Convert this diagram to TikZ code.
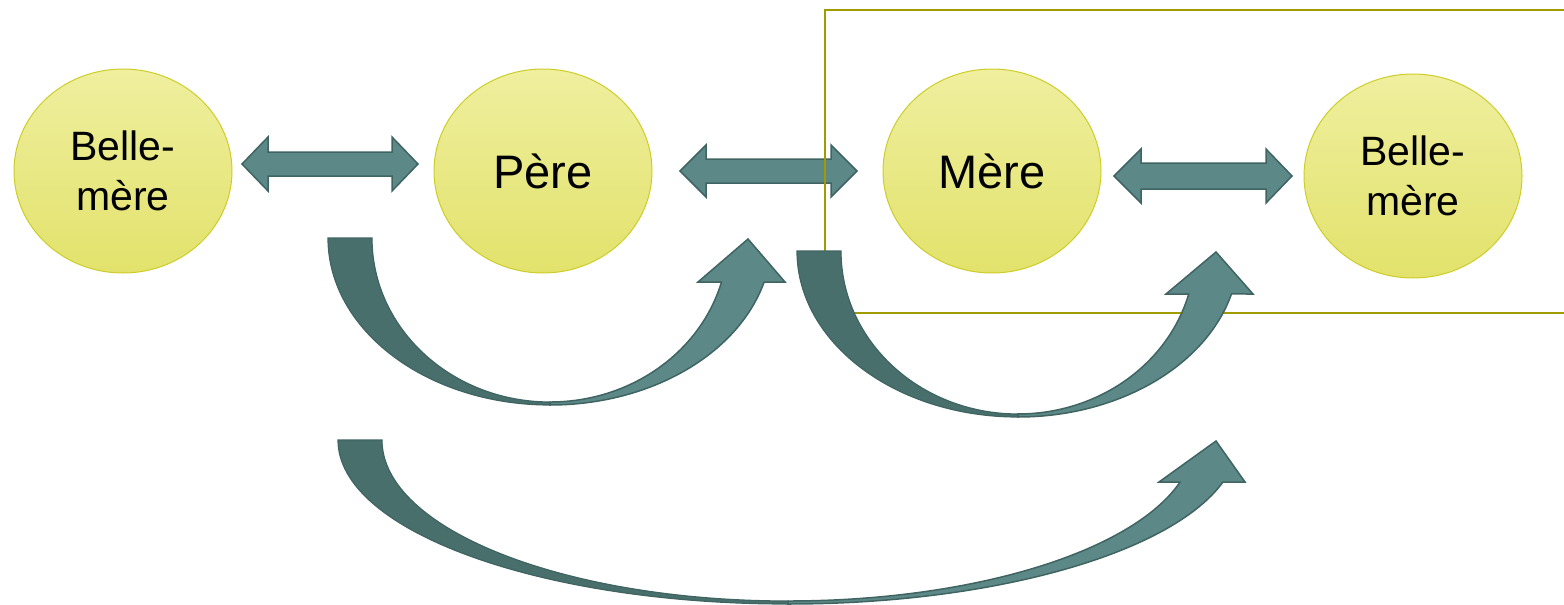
\documentclass[tikz,border=0pt]{standalone}
\usepackage{fontspec}
\setmainfont{Liberation Sans}
\usetikzlibrary{shapes.geometric}
\definecolor{ellTop}{HTML}{EFEF9F}
\definecolor{ellBot}{HTML}{E2E26C}
\definecolor{ellLine}{HTML}{CDCD2A}
\definecolor{arrFill}{HTML}{5C8987}
\definecolor{arrDark}{HTML}{486F6C}
\definecolor{arrLine}{HTML}{3F6462}
\definecolor{rectLine}{HTML}{A09C00}
\begin{document}
\begin{tikzpicture}[x=1pt,y=-1pt,
  person/.style={ellipse, draw=ellLine, line width=1pt, top color=ellTop, bottom color=ellBot,
    minimum width=218pt, minimum height=204pt, inner sep=0pt, align=center, text=black},
  twolines/.style={font=\fontsize{41}{50}\selectfont},
  oneline/.style={font=\fontsize{47}{56}\selectfont},
  blockarrow/.style={fill=arrFill, draw=arrLine, line width=1.5pt, line join=miter},
  darkband/.style={fill=arrDark, draw=arrLine, line width=1.2pt},
  lightband/.style={fill=arrFill, draw=arrLine, line width=1.5pt, line join=miter},
  frameline/.style={draw=rectLine, line width=2.5pt}]
\useasboundingbox (0,0) rectangle (1564,605);

% persons
\node[person, twolines] (bm1) at (123,171) {Belle-\\mère};
\node[person, oneline] (pere) at (543,171) {Père};
\node[person, oneline] (mere) at (992,171) {Mère};
\node[person, twolines] (bm2) at (1413,176) {Belle-\\mère};

% double arrows
\draw[blockarrow] (242,164) -- (268,137) -- (268,152) -- (392,152) -- (392,137) -- (418,164)
  -- (392,191) -- (392,176) -- (268,176) -- (268,191) -- cycle;
\draw[blockarrow] (680,171) -- (706,145) -- (706,159) -- (831,159) -- (831,145) -- (857,171)
  -- (831,197) -- (831,183) -- (706,183) -- (706,197) -- cycle;
\draw[blockarrow] (1114,176) -- (1141,149) -- (1141,163) -- (1266,163) -- (1266,149) -- (1292,176)
  -- (1266,203) -- (1266,189) -- (1141,189) -- (1141,203) -- cycle;

% frame
\draw[frameline] (825,10) rectangle (1575,313);

% curved arrow A
\filldraw[darkband] (328,238) arc[start angle=180,end angle=90,x radius=222,y radius=167]
  -- (550,402) arc[start angle=90,end angle=180,x radius=178,y radius=164] -- cycle;
\filldraw[lightband] (550,405) arc[start angle=90,end angle=15.28,x radius=222,y radius=167]
  -- (785,282) -- (748,239) -- (698,282) -- (721.5,282)
  arc[start angle=15.56,end angle=90,x radius=178,y radius=164] -- cycle;

% curved arrow B
\filldraw[darkband] (797,251) arc[start angle=180,end angle=90,x radius=221,y radius=166]
  -- (1018,414) arc[start angle=90,end angle=180,x radius=177,y radius=163] -- cycle;
\filldraw[lightband] (1018,417) arc[start angle=90,end angle=15.01,x radius=221,y radius=166]
  -- (1253,294) -- (1216,252) -- (1166,294) -- (1188.7,294)
  arc[start angle=15.30,end angle=90,x radius=177,y radius=163] -- cycle;

% curved arrow C
\filldraw[darkband] (338,440) arc[start angle=180,end angle=90,x radius=450,y radius=164]
  -- (788,601) arc[start angle=90,end angle=180,x radius=406,y radius=161] -- cycle;
\filldraw[lightband] (788,604) arc[start angle=90,end angle=14.84,x radius=450,y radius=164]
  -- (1245,482) -- (1216,441) -- (1159,482) -- (1180.1,482)
  arc[start angle=15.12,end angle=90,x radius=406,y radius=161] -- cycle;
\end{tikzpicture}
\end{document}
